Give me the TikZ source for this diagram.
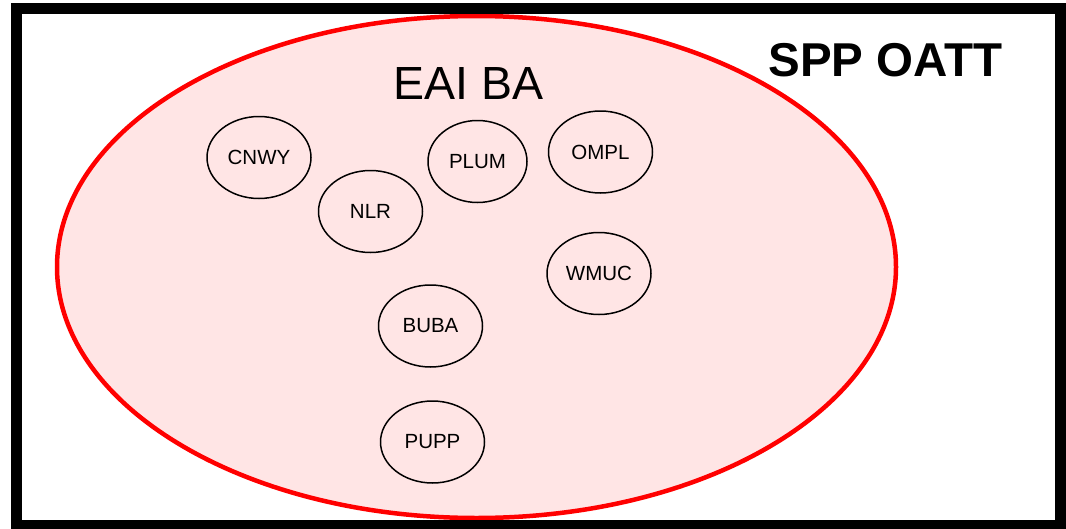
\documentclass[tikz,border=0pt]{standalone}
\usepackage{fontspec}
\setmainfont{Liberation Sans}
\usetikzlibrary{shapes.geometric}
\begin{document}
\begin{tikzpicture}[x=1pt,y=-1pt,
  member/.style={draw,ellipse,line width=1.5pt,minimum width=104pt,minimum height=82pt,inner sep=0pt,font=\fontsize{20.5}{24}\selectfont}]
\useasboundingbox (0,0) rectangle (1066,528);
\coordinate (C) at (476.5,267);
% the balancing area
\fill[color=red!10] (C) ellipse[x radius=419.5,y radius=251];
\draw[color=red,line width=4.5pt] (C) ellipse[x radius=419.5,y radius=251];
\node (eaiba) at (468.5,84) {\fontsize{46.5}{52}\selectfont EAI BA};
\node (spp) at (885.5,60) {\bfseries\fontsize{47.5}{54}\selectfont SPP OATT};
% members
\node[member] (cnwy) at (259,157.5) {CNWY};
\node[member] (nlr) at (370.5,211.5) {NLR};
\node[member,minimum width=99pt] (plum) at (477.5,161.5) {PLUM};
\node[member] (ompl) at (600.5,152) {OMPL};
\node[member] (wmuc) at (599,273.5) {WMUC};
\node[member] (buba) at (430.5,326) {BUBA};
\node[member] (pupp) at (432.5,442) {PUPP};
% outer frame
\draw[line width=11pt] (16.5,8.5) rectangle (1060.5,525.5);
\end{tikzpicture}
\end{document}
